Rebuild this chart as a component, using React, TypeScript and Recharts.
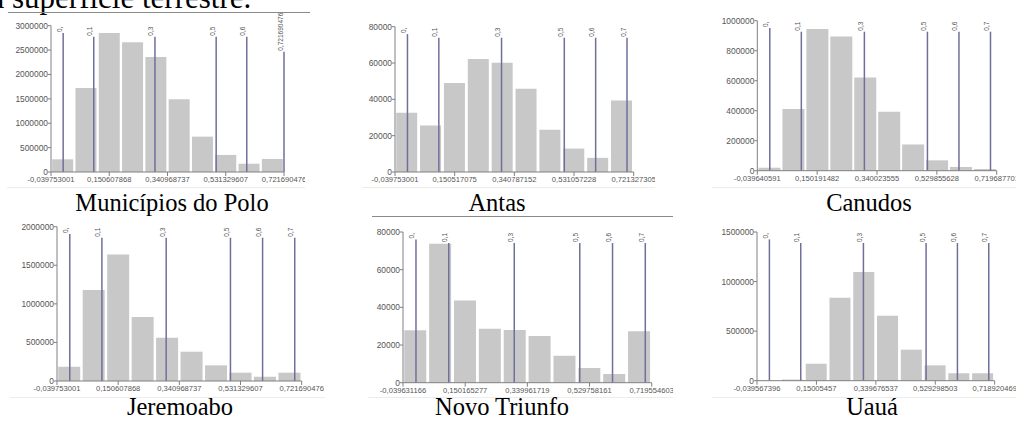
import { BarChart, Bar, XAxis, YAxis, ReferenceLine } from "recharts"

// bin counts (10 bins per histogram)
const polo = [260000, 1720000, 2850000, 2660000, 2360000, 1490000, 725000, 350000, 170000, 265000]
const antas = [32600, 25600, 49000, 62200, 60200, 45900, 23300, 12900, 7800, 39300]
const canudos = [20000, 411000, 944000, 895000, 622000, 393000, 175000, 69000, 25000, 11000]
const jeremoabo = [185000, 1180000, 1640000, 830000, 561000, 380000, 203000, 108000, 56000, 108000]
const novoTriunfo = [27800, 73800, 43700, 28700, 28000, 24800, 14300, 7800, 4600, 27300]
const uaua = [2000, 12000, 171000, 837000, 1097000, 656000, 313000, 155000, 75000, 75000]

// x tick labels (bin edges, every 2 bins)
const poloTicks = ["-0,039753001", "0,150607868", "0,340968737", "0,531329607", "0,721690476"]
const antasTicks = ["-0,039753001", "0,150517075", "0,340787152", "0,531057228", "0,721327305"]
const canudosTicks = ["-0,039640591", "0,150191482", "0,340023555", "0,529855628", "0,719687701"]
const jeremoaboTicks = ["-0,039753001", "0,150607868", "0,340968737", "0,531329607", "0,721690476"]
const novoTriunfoTicks = ["-0,039631166", "0,150165277", "0,339961719", "0,529758161", "0,719554603"]
const uauaTicks = ["-0,039567396", "0,15005457", "0,339676537", "0,529298503", "0,718920469"]

// y ticks
const poloY = [0, 500000, 1000000, 1500000, 2000000, 2500000, 3000000]
const antasY = [0, 20000, 40000, 60000, 80000]
const canudosY = [0, 200000, 400000, 600000, 800000, 1000000]
const jeremoaboY = [0, 500000, 1000000, 1500000, 2000000]
const novoTriunfoY = [0, 20000, 40000, 60000, 80000]
const uauaY = [0, 500000, 1000000, 1500000]

// class limits drawn as vertical lines
const limits = [0, 0.1, 0.3, 0.5, 0.6, 0.7]
const limitLabels = ["0,", "0,1", "0,3", "0,5", "0,6", "0,7"]
const poloLimits = [0, 0.1, 0.3, 0.5, 0.6, 0.721690476]
const poloLimitLabels = ["0,", "0,1", "0,3", "0,5", "0,6", "0,721690476"]

const toNum = (s: string) => parseFloat(s.replace(",", "."))

const panels = [
  { name: "Municípios do Polo", values: polo, ticks: poloTicks, yTicks: poloY, lines: poloLimits, lineLabels: poloLimitLabels,
    box: [7, 12, 305, 188], plot: [51, 25.7, 284, 172], cap: [172, 191] },
  { name: "Antas", values: antas, ticks: antasTicks, yTicks: antasY, lines: limits, lineLabels: limitLabels,
    box: [362, 12, 655, 188], plot: [395, 26.7, 633.7, 172], cap: [497, 191] },
  { name: "Canudos", values: canudos, ticks: canudosTicks, yTicks: canudosY, lines: limits, lineLabels: limitLabels,
    box: [712, 12, 1016, 188], plot: [757.3, 20.7, 996.7, 170.7], cap: [869, 191] },
  { name: "Jeremoabo", values: jeremoabo, ticks: jeremoaboTicks, yTicks: jeremoaboY, lines: limits, lineLabels: limitLabels,
    box: [10, 217, 325, 398], plot: [57, 226.7, 301.7, 381], cap: [180, 395] },
  { name: "Novo Triunfo", values: novoTriunfo, ticks: novoTriunfoTicks, yTicks: novoTriunfoY, lines: limits, lineLabels: limitLabels,
    box: [368, 217, 673, 398], plot: [403, 232, 651.7, 382.7], cap: [502, 395] },
  { name: "Uauá", values: uaua, ticks: uauaTicks, yTicks: uauaY, lines: limits, lineLabels: limitLabels,
    box: [712, 217, 1016, 398], plot: [757, 232, 994.7, 380.7], cap: [872, 395] },
]

const LINE = "#6f6f9c"
const FONT = "'Liberation Sans', Arial, sans-serif"

const labelLen = (s: string) => s.split("").reduce((a, c) => a + (c === "," ? 1.8 : 3.6), 0)

const limitShape = (label: string) => (p: any) => {
  const top = Math.min(p.y1, p.y2)
  const bottom = Math.max(p.y1, p.y2)
  const start = top + Math.min(labelLen(label) + 2, 26)
  return (
    <g>
      <line x1={p.x1} x2={p.x1} y1={start} y2={bottom} stroke={LINE} strokeWidth={1.5} />
      <text
        transform={`translate(${p.x1 - 1.5},${start - 1}) rotate(-90)`}
        fontSize={6.5}
        fontFamily={FONT}
        fill="#555"
        textAnchor="start"
      >
        {label}
      </text>
    </g>
  )
}

const Histogram = ({ panel }: { panel: (typeof panels)[number] }) => {
  const [bl, bt, br, bb] = panel.box
  const [pl, pt, pr, pb] = panel.plot
  const lo = toNum(panel.ticks[0])
  const hi = toNum(panel.ticks[panel.ticks.length - 1])
  const step = (hi - lo) / panel.values.length
  const data = panel.values.map((v, i) => ({ bin: `b${i}`, mid: lo + step * (i + 0.5), v }))
  const tickVals = panel.ticks.map(toNum)
  const w = br - bl
  const h = bb - bt
  return (
    <div
      style={{
        position: "absolute",
        left: bl,
        top: bt,
        width: w,
        height: h,
        overflow: "hidden",
        borderBottom: "1px solid #ededed",
        boxSizing: "border-box",
      }}
    >
      <BarChart
        width={w}
        height={h}
        data={data}
        barCategoryGap="5%"
        margin={{ top: pt - bt, right: br - pr, bottom: bb - pb - 20, left: 0 }}
      >
        <XAxis
          xAxisId="val"
          dataKey="mid"
          type="number"
          domain={[lo, hi]}
          allowDataOverflow
          ticks={tickVals}
          interval={0}
          height={20}
          tickSize={4}
          tickMargin={1}
          stroke="#808080"
          tick={{ fontSize: 7.6, fill: "#555", fontFamily: FONT }}
          tickFormatter={(_v: number, i: number) => panel.ticks[i]}
        />
        <XAxis xAxisId="bin" dataKey="bin" hide height={0} padding={{ left: 0, right: 0 }} />
        <YAxis
          domain={[0, panel.yTicks[panel.yTicks.length - 1]]}
          ticks={panel.yTicks}
          interval={0}
          width={pl - bl}
          tickSize={3}
          tickMargin={0}
          stroke="#808080"
          tick={{ fontSize: 8.4, fill: "#555", fontFamily: FONT }}
        />
        <Bar xAxisId="bin" dataKey="v" fill="#c8c8c8" isAnimationActive={false} />
        {panel.lines.map((x, i) => (
          <ReferenceLine
            key={i}
            xAxisId="val"
            x={x}
            ifOverflow="visible"
            shape={limitShape(panel.lineLabels[i])}
          />
        ))}
      </BarChart>
    </div>
  )
}

const App = () => {
  return (
    <div
      style={{
        position: "absolute",
        left: 0,
        top: 0,
        width: 1016,
        height: 421,
        overflow: "hidden",
        background: "#fff",
      }}
    >
      <div
        style={{
          position: "absolute",
          left: -25,
          top: -18.5,
          fontFamily: "'Liberation Serif', 'Times New Roman', serif",
          fontSize: 31,
          lineHeight: "31px",
          whiteSpace: "nowrap",
          color: "#000",
        }}
      >
        da superfície terrestre.
      </div>
      <div style={{ position: "absolute", left: 8, top: 12, width: 302, height: 1, background: "#8a8a8a" }} />
      <div style={{ position: "absolute", left: 372, top: 216, width: 301, height: 1, background: "#8a8a8a" }} />
      {panels.map((p) => (
        <Histogram key={p.name} panel={p} />
      ))}
      {panels.map((p) => (
        <div
          key={p.name + "-cap"}
          style={{
            position: "absolute",
            left: p.cap[0] - 150,
            top: p.cap[1],
            width: 300,
            textAlign: "center",
            fontFamily: "'Liberation Serif', 'Times New Roman', serif",
            fontSize: 24.5,
            lineHeight: "24.5px",
            color: "#000",
          }}
        >
          {p.name}
        </div>
      ))}
    </div>
  )
}

export default App
